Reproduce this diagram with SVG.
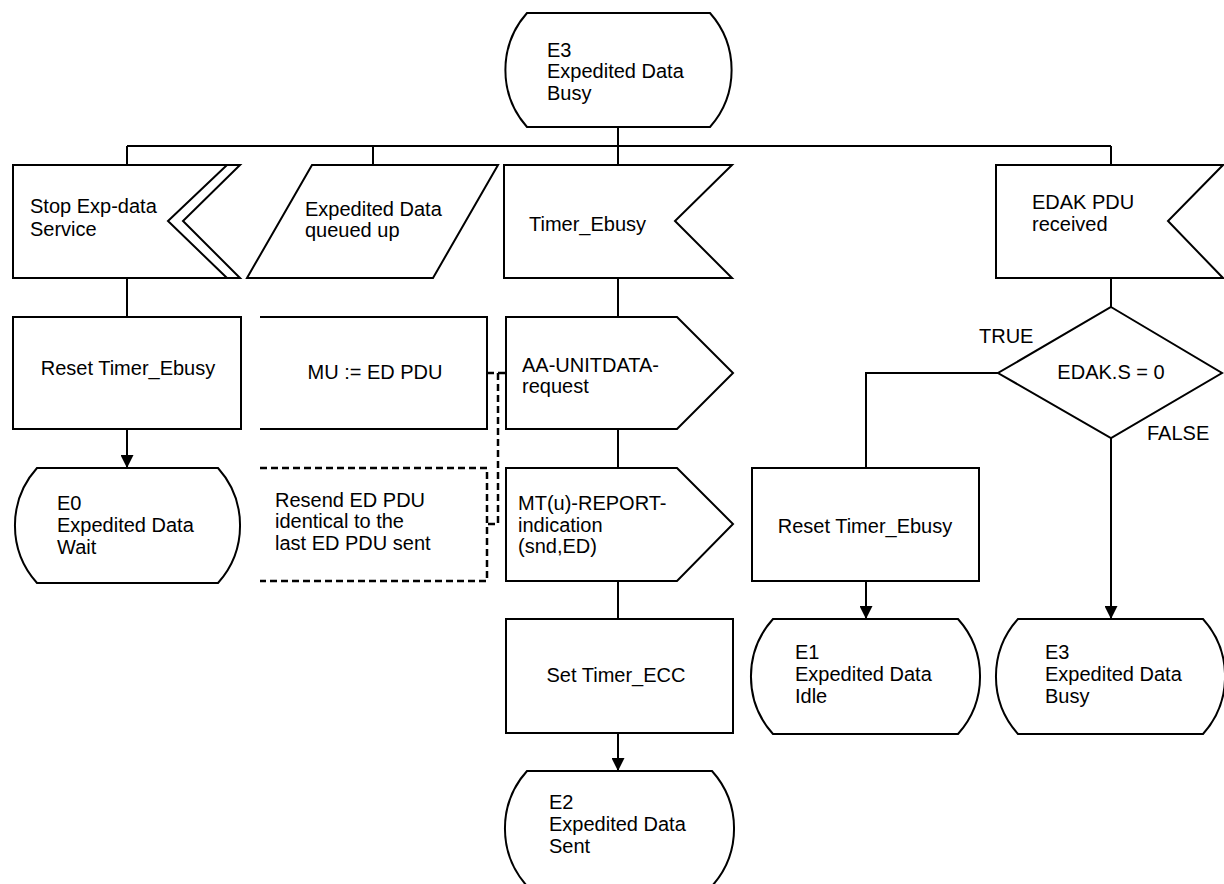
<svg xmlns="http://www.w3.org/2000/svg" width="1224" height="884" viewBox="0 0 1224 884">
<style>
.s{fill:#fff;stroke:#000;stroke-width:2}
.o{fill:none;stroke:#000;stroke-width:2}
.d{fill:none;stroke:#000;stroke-width:2.5;stroke-dasharray:7 4}
text{font-family:"Liberation Sans",Arial,sans-serif;font-size:20px;fill:#000}
.m{text-anchor:middle}
</style>
<defs>
<marker id="arr" markerWidth="13" markerHeight="13" refX="13" refY="6.5" orient="auto" markerUnits="userSpaceOnUse"><path d="M0,0 L13,6.5 L0,13 z" fill="#000"/></marker>
</defs>
<rect width="1224" height="884" fill="#fff"/>
<g id="connectors" class="o">
<path class="o" d="M618,127 V165 M127,146 H1111 M127,146 V165 M373,146 V165 M1111,146 V165"/>
<path class="o" d="M127,278 V317 M618,278 V317 M618,429 V468 M618,581 V619 M1111,278 V307 M998,373 H866 V468"/>
<path class="o" d="M127,429 V468" marker-end="url(#arr)"/>
<path class="o" d="M618,733 V771" marker-end="url(#arr)"/>
<path class="o" d="M866,581 V619" marker-end="url(#arr)"/>
<path class="o" d="M1111,438 V619" marker-end="url(#arr)"/>
<path class="d" d="M487,373 H506 M498,373 V524 H487"/>
</g>
<g id="state_e3_top">
<path class="s" d="M527,13 H710 A86,86 0 0 1 710,127 H527 A86,86 0 0 1 527,13 Z"/>
<text x="547" y="57">E3</text><text x="547" y="78">Expedited Data</text><text x="547" y="100">Busy</text>
</g>
<g id="sig_stop">
<path class="s" d="M13,165 H240 L183,221 L240,278 H13 Z"/>
<path class="o" d="M227,165 L168,221 L227,278"/>
<text x="30" y="213">Stop Exp-data</text><text x="30" y="236">Service</text>
</g>
<g id="sig_queued">
<path class="s" d="M312,165 H498 L433,278 H247 Z"/>
<text x="305" y="216">Expedited Data</text><text x="305" y="237">queued up</text>
</g>
<g id="sig_timer">
<path class="s" d="M504,165 H732 L675,221 L732,278 H504 Z"/>
<text x="529" y="231">Timer_Ebusy</text>
</g>
<g id="sig_edak">
<path class="s" d="M996,165 H1223 L1168,221 L1223,278 H996 Z"/>
<text x="1032" y="209">EDAK PDU</text><text x="1032" y="231">received</text>
</g>
<g id="task_reset_left">
<rect class="s" x="13" y="317" width="228" height="112"/>
<text class="m" x="128" y="375">Reset Timer_Ebusy</text>
</g>
<g id="task_mu">
<path class="o" d="M260,317 H487 V429 H260"/>
<text class="m" x="375" y="379">MU := ED PDU</text>
</g>
<g id="comment_resend">
<path class="d" d="M260,468 H487 V581 H260"/>
<text x="275" y="507">Resend ED PDU</text><text x="275" y="528">identical to the</text><text x="275" y="550">last ED PDU sent</text>
</g>
<g id="out_aa">
<path class="s" d="M506,317 H677 L733,373 L677,429 H506 Z"/>
<text x="522" y="372">AA-UNITDATA-</text><text x="522" y="393">request</text>
</g>
<g id="out_mt">
<path class="s" d="M506,468 H677 L733,524 L677,581 H506 Z"/>
<text x="518" y="510">MT(u)-REPORT-</text><text x="518" y="532">indication</text><text x="518" y="553">(snd,ED)</text>
</g>
<g id="task_set_ecc">
<rect class="s" x="506" y="619" width="227" height="114"/>
<text class="m" x="616" y="682">Set Timer_ECC</text>
</g>
<g id="state_e0">
<path class="s" d="M37,468 H218 A86,86 0 0 1 218,583 H37 A86,86 0 0 1 37,468 Z"/>
<text x="57" y="510">E0</text><text x="57" y="532">Expedited Data</text><text x="57" y="554">Wait</text>
</g>
<g id="state_e2">
<path class="s" d="M527,771 H712 A86,86 0 0 1 712,886 H527 A86,86 0 0 1 527,771 Z"/>
<text x="549" y="809">E2</text><text x="549" y="831">Expedited Data</text><text x="549" y="853">Sent</text>
</g>
<g id="decision_edak">
<path class="s" d="M1111,307 L1222,373 L1111,438 L998,373 Z"/>
<text class="m" x="1111" y="379">EDAK.S = 0</text>
<text x="979" y="343">TRUE</text>
<text x="1147" y="440">FALSE</text>
</g>
<g id="task_reset_right">
<rect class="s" x="752" y="468" width="227" height="113"/>
<text class="m" x="865" y="533">Reset Timer_Ebusy</text>
</g>
<g id="state_e1">
<path class="s" d="M773,619 H958 A86,86 0 0 1 958,734 H773 A86,86 0 0 1 773,619 Z"/>
<text x="795" y="659">E1</text><text x="795" y="681">Expedited Data</text><text x="795" y="703">Idle</text>
</g>
<g id="state_e3_bottom">
<path class="s" d="M1018,619 H1203 A86,86 0 0 1 1203,734 H1018 A86,86 0 0 1 1018,619 Z"/>
<text x="1045" y="659">E3</text><text x="1045" y="681">Expedited Data</text><text x="1045" y="703">Busy</text>
</g>
</svg>
